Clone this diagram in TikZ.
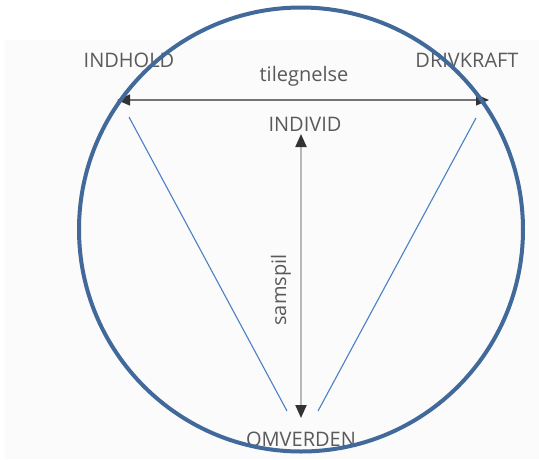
\documentclass[tikz,border=0pt]{standalone}
\usepackage{fontspec}
\setmainfont{Open Sans}
\usepackage{xcolor}
\usepackage{tikz}
\usetikzlibrary{arrows.meta}

\definecolor{ringblue}{HTML}{41699A}
\definecolor{lineblue}{HTML}{4A80C4}
\definecolor{txtgray}{HTML}{5A5A5A}
\definecolor{tipgray}{HTML}{333333}

\begin{document}
\begin{tikzpicture}[x=1pt, y=-1pt,
    lbl/.style={text=txtgray, font=\fontsize{20}{22}\selectfont, inner sep=0pt},
    pil/.style={{Triangle[length=13pt,width=11pt,color=tipgray]}-{Triangle[length=13pt,width=11pt,color=tipgray]}, line width=1.3pt}]
    \useasboundingbox (0,0) rectangle (539,459);
    \fill [gray!3] (5,40) rectangle (539,459);

    \node [lbl] (indhold) at (129,60) {INDHOLD};
    \node [lbl] (drivkraft) at (467,60) {DRIVKRAFT};
    \node [lbl] (tilegnelse) at (304,76) {tilegnelse};
    \node [lbl] (individ) at (305,124) {INDIVID};
    \node [lbl] (omverden) at (301,439) {OMVERDEN};
    \node [lbl, rotate=90] (samspil) at (281,290) {samspil};

    \coordinate (venstre) at (117,100);
    \coordinate (hoejre) at (489,100);
    \coordinate (i-pil) at (301,134);
    \coordinate (o-pil) at (301,418);
    \coordinate (v-top) at (129,117);
    \coordinate (v-bund) at (287,411);
    \coordinate (h-top) at (476,118);
    \coordinate (h-bund) at (318,411);

    % tilegnelse mellem indhold og drivkraft
    \draw [pil, draw=black!55] (venstre) -- (hoejre);
    % samspil mellem individ og omverden
    \draw [pil, draw=gray!55, line width=2pt] (i-pil) -- (o-pil);

    \draw [lineblue, line width=1.1pt] (v-top) -- (v-bund);
    \draw [lineblue, line width=1.1pt] (h-top) -- (h-bund);

    \draw [ringblue, line width=4pt] (301,229.5) circle [radius=222];
\end{tikzpicture}
\end{document}
